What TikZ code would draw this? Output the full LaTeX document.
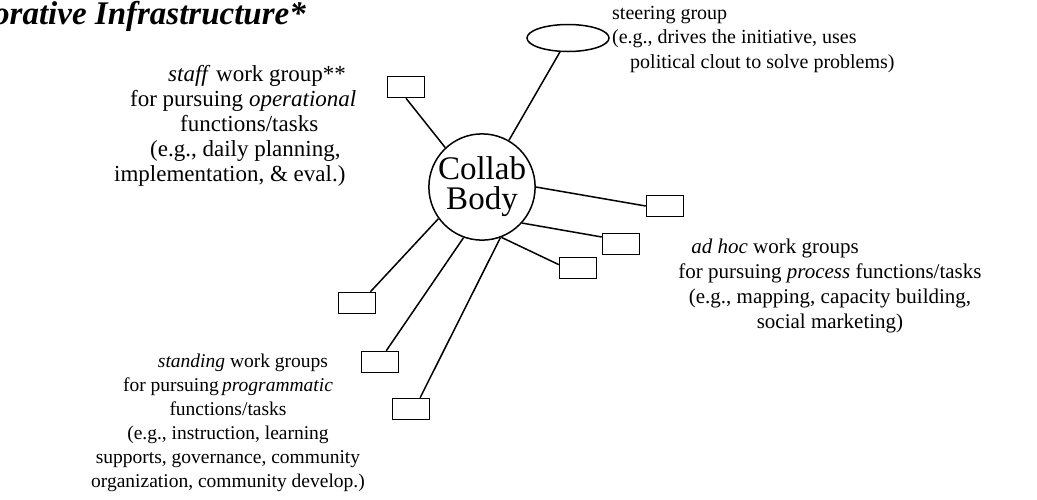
\documentclass[tikz,border=0pt]{standalone}
\usepackage{fontspec}
\setmainfont{Liberation Serif}
\usetikzlibrary{shapes.geometric}
\begin{document}
\begin{tikzpicture}[
  x=1pt, y=-1pt,
  wg/.style={rectangle, draw, line width=1.5pt, minimum width=37pt, minimum height=21pt, inner sep=0pt},
  hub/.style={circle, draw, line width=1.5pt, minimum size=106pt, inner sep=0pt, align=center, font=\fontsize{33}{30}\selectfont},
  note/.style={inner sep=0pt, align=center, font=\fontsize{21}{25}\selectfont},
  link/.style={line width=1.5pt}
]
\useasboundingbox (0,0) rectangle (1037,499);
\node[anchor=base west, inner sep=0pt, font=\fontsize{33}{33}\selectfont\bfseries\itshape] (title) at (-7,24) {orative Infrastructure*};

\node[hub] (hub) at (482,187) {Collab\\Body};
\node[ellipse, draw, line width=1.5pt, minimum width=82pt, minimum height=27pt, inner sep=0pt] (steer) at (568,38) {};
\node[wg] (staff) at (406,87) {};
\node[wg] (adhocA) at (665,206) {};
\node[wg] (adhocB) at (621,244) {};
\node[wg] (adhocC) at (578,268) {};
\node[wg] (standA) at (357,303) {};
\node[wg] (standB) at (380,362) {};
\node[wg] (standC) at (411,409) {};

\node[note, anchor=north west, align=left, font=\fontsize{20}{24.5}\selectfont] (steertext) at (612,6) {steering group\\(e.g., drives the initiative, uses\\\hspace*{18pt}political clout to solve problems)};
\node[note, anchor=north west, align=left, font=\fontsize{23}{25}\selectfont] (stafftext) at (108,65) {\hspace*{60pt}\textit{staff} work group**\\\hspace*{22pt}for pursuing \textit{operational}\\\hspace*{72pt}functions/tasks\\\hspace*{42pt}(e.g., daily planning,\\\hspace*{6pt}implementation, \& eval.)};
\node[note, anchor=north] (adhoctext) at (830,239) {\textit{ad hoc} work groups\hspace*{110pt}\\for pursuing \textit{process} functions/tasks\\(e.g., mapping, capacity building,\\social marketing)};
\node[note, anchor=north, font=\fontsize{19.5}{24}\selectfont] (standtext) at (228,354) {\hspace*{30pt}\textit{standing} work groups\\for pursuing\,\textit{programmatic}\\functions/tasks\\(e.g., instruction, learning\hspace*{30pt}\\supports, governance, community\\organization, community develop.)};

\draw[link] (hub) -- (steer);
\draw[link] (hub.133) -- (staff.south);
\draw[link] (hub.east) -- (adhocA.west);
\draw[link] (hub.-42) -- (adhocB.160);
\draw[link] (hub.-69) -- (adhocC.170);
\draw[link] (hub.-144) -- (standA.40);
\draw[link] (hub.-110) -- (standB.61);
\draw[link] (hub.-70) -- (standC.51);
\end{tikzpicture}
\end{document}
